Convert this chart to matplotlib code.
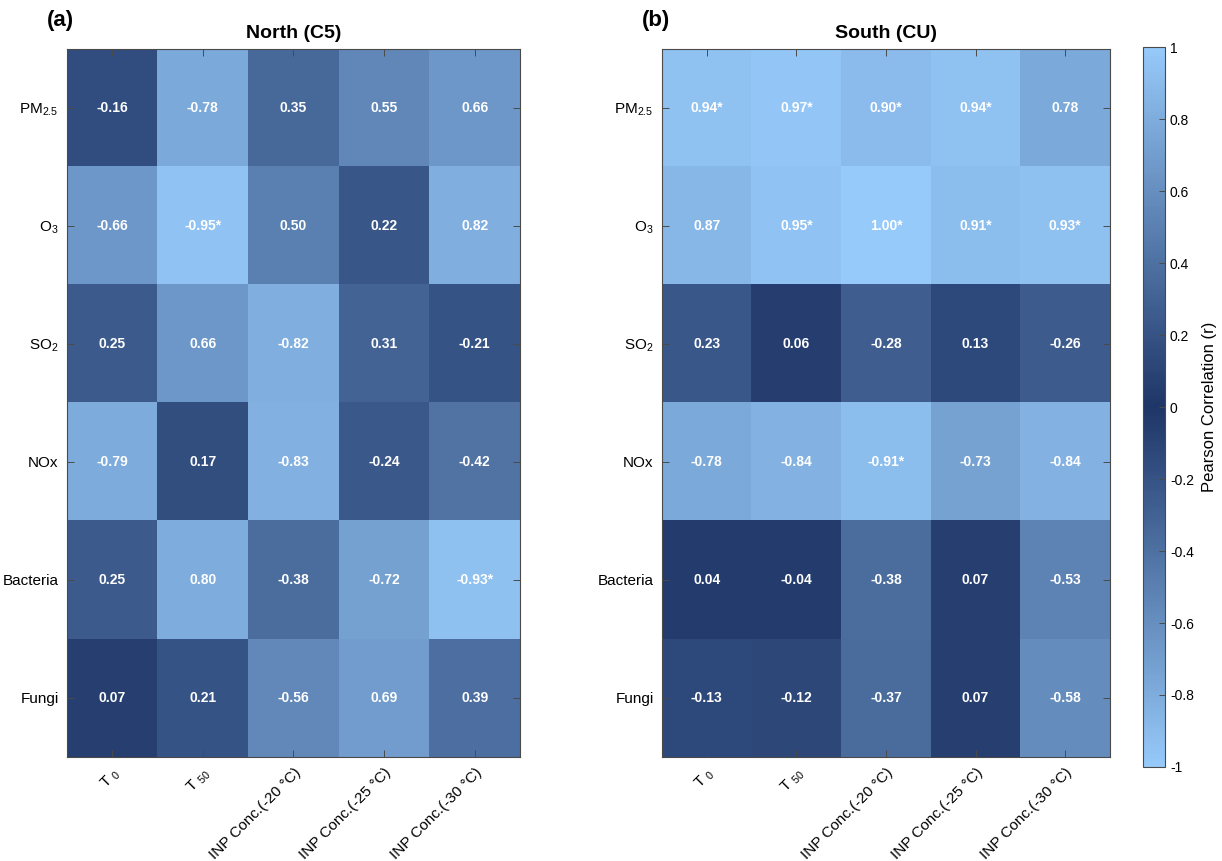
import numpy as np
import matplotlib
matplotlib.use("Agg")
import matplotlib.pyplot as plt
from matplotlib.colors import LinearSegmentedColormap

plt.rcParams["font.family"] = ["Liberation Sans", "DejaVu Sans"]
plt.rcParams["mathtext.fontset"] = "custom"
plt.rcParams["mathtext.rm"] = "Liberation Sans"
plt.rcParams["mathtext.it"] = "Liberation Sans:italic"
plt.rcParams["mathtext.bf"] = "Liberation Sans:bold"

row_labels = ["PM$_{2.5}$", "O$_{3}$", "SO$_{2}$", "NOx", "Bacteria", "Fungi"]
col_labels = ["T $_{0}$", "T $_{50}$", "INP Conc.(-20 °C)",
              "INP Conc.(-25 °C)", "INP Conc.(-30 °C)"]

north_r = [
    [-0.16, -0.78, 0.35, 0.55, 0.66],
    [-0.66, -0.95, 0.50, 0.22, 0.82],
    [0.25, 0.66, -0.82, 0.31, -0.21],
    [-0.79, 0.17, -0.83, -0.24, -0.42],
    [0.25, 0.80, -0.38, -0.72, -0.93],
    [0.07, 0.21, -0.56, 0.69, 0.39],
]
north_sig = [
    [0, 0, 0, 0, 0],
    [0, 1, 0, 0, 0],
    [0, 0, 0, 0, 0],
    [0, 0, 0, 0, 0],
    [0, 0, 0, 0, 1],
    [0, 0, 0, 0, 0],
]

south_r = [
    [0.94, 0.97, 0.90, 0.94, 0.78],
    [0.87, 0.95, 1.00, 0.91, 0.93],
    [0.23, 0.06, -0.28, 0.13, -0.26],
    [-0.78, -0.84, -0.91, -0.73, -0.84],
    [0.04, -0.04, -0.38, 0.07, -0.53],
    [-0.13, -0.12, -0.37, 0.07, -0.58],
]
south_sig = [
    [1, 1, 1, 1, 0],
    [0, 1, 1, 1, 1],
    [0, 0, 0, 0, 0],
    [0, 0, 1, 0, 0],
    [0, 0, 0, 0, 0],
    [0, 0, 0, 0, 0],
]

# |r| colour scale: dark navy at 0, light blue at +/-1
light = "#96CAFA"
dark = "#1E3567"
cmap = LinearSegmentedColormap.from_list("absblue", [light, dark, light])

fig = plt.figure(figsize=(12.22, 8.61), dpi=100)
ax_n = fig.add_axes([0.0548, 0.1208, 0.3707, 0.8223])
ax_s = fig.add_axes([0.5417, 0.1208, 0.3666, 0.8223])
cax = fig.add_axes([0.9354, 0.1092, 0.018, 0.836])

edge = "#4a4a4a"


def draw_panel(ax, values, sig, title, tag):
    data = np.array(values)
    im = ax.imshow(data, cmap=cmap, vmin=-1, vmax=1, aspect="auto")
    for i in range(data.shape[0]):
        for j in range(data.shape[1]):
            txt = f"{data[i, j]:.2f}" + ("*" if sig[i][j] else "")
            ax.text(j, i, txt, ha="center", va="center", color="white",
                    fontsize=10, fontweight="bold")
    ax.set_xticks(range(len(col_labels)))
    ax.set_xticklabels(col_labels, rotation=45, ha="right",
                       rotation_mode="anchor", fontsize=11)
    ax.set_yticks(range(len(row_labels)))
    ax.set_yticklabels(row_labels, fontsize=11)
    ax.tick_params(direction="in", top=True, right=True, length=5,
                   width=0.7, color=edge, pad=6)
    for s in ax.spines.values():
        s.set_color(edge)
        s.set_linewidth(0.8)
    ax.set_title(title, fontsize=14, fontweight="bold", pad=8)
    ax.text(-0.045, 1.025, tag, transform=ax.transAxes, fontsize=16,
            fontweight="bold", ha="left", va="bottom")
    return im


im = draw_panel(ax_n, north_r, north_sig, "North (C5)", "(a)")
draw_panel(ax_s, south_r, south_sig, "South (CU)", "(b)")

cb = fig.colorbar(im, cax=cax)
ticks = np.round(np.arange(-1, 1.01, 0.2), 1)
cb.set_ticks(ticks)
cb.set_ticklabels([f"{t:g}" if t != 0 else "0" for t in ticks])
cb.ax.tick_params(direction="in", length=4, width=0.7, color=edge,
                  labelsize=10)
cb.outline.set_edgecolor(edge)
cb.outline.set_linewidth(0.8)
cb.set_label("Pearson Correlation (r)", fontsize=12, labelpad=6)

fig.savefig("out.png", dpi=100)
